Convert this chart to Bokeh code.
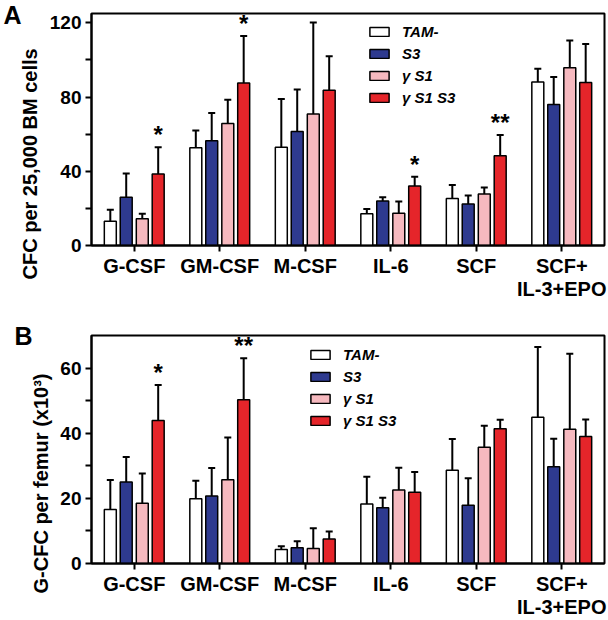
from bokeh.plotting import figure
from bokeh.models import (ColumnDataSource, FactorRange, Range1d, FixedTicker, LinearAxis,
                          Whisker, TeeHead, Legend, LegendItem, Title)
from bokeh.transform import dodge
from bokeh.layouts import column
from bokeh.embed import file_html
from bokeh.resources import INLINE
from bokeh.core.properties import value

categories = ["G-CSF", "GM-CSF", "M-CSF", "IL-6", "SCF", "SCF+\nIL-3+EPO"]
series = ["TAM-", "S3", "γ S1", "γ S1 S3"]
colors = ["#ffffff", "#2e3a8f", "#f6b9bf", "#e5252a"]

# Panel A: CFC per 25,000 BM cells (mean, SD)
a_tam = [13.0, 52.7, 52.9, 17.1, 25.3, 88.1]
a_tam_err = [6.2, 9.3, 26.0, 2.5, 7.3, 7.1]
a_s3 = [26.0, 56.4, 61.4, 24.0, 22.3, 76.0]
a_s3_err = [12.8, 15.0, 22.6, 2.0, 4.6, 14.8]
a_s1 = [14.4, 65.7, 70.9, 17.4, 27.8, 95.8]
a_s1_err = [2.7, 12.8, 49.3, 6.3, 3.5, 14.6]
a_s1s3 = [38.5, 87.6, 83.7, 32.0, 48.4, 87.8]
a_s1s3_err = [14.5, 25.3, 18.3, 5.0, 11.2, 20.8]
a_sig = ["*", "*", "", "*", "**", ""]
a_ticks = [0, 20, 40, 60, 80, 100, 120]
a_tick_labels = ["0", "", "40", "", "80", "", "120"]

# Panel B: G-CFC per femur (x10^3)
b_tam = [16.6, 19.9, 4.3, 18.3, 28.6, 44.9]
b_tam_err = [9.0, 5.5, 1.0, 8.3, 9.6, 21.6]
b_s3 = [25.0, 20.7, 4.8, 17.1, 17.9, 29.7]
b_s3_err = [7.7, 8.6, 2.0, 3.1, 8.3, 8.6]
b_s1 = [18.5, 25.7, 4.6, 22.6, 35.7, 41.2]
b_s1_err = [9.1, 13.0, 6.2, 6.8, 6.6, 23.2]
b_s1s3 = [43.9, 50.3, 7.5, 21.9, 41.4, 39.0]
b_s1s3_err = [10.9, 12.7, 2.3, 6.2, 2.7, 5.2]
b_sig = ["*", "**", "", "", "", ""]
b_ticks = [0, 10, 20, 30, 40, 50, 60]
b_tick_labels = ["0", "", "20", "", "40", "", "60"]

FONT = "Liberation Sans"
offsets = [-0.28, -0.094, 0.094, 0.28]


def make_panel(means, errs, sig, ymax, ticks, tick_labels, ylabel, ylabel_offset,
               letter, height, top_border, frame_h, legend_loc):
    bottom_border = height - top_border - frame_h
    p = figure(x_range=FactorRange(factors=categories), y_range=Range1d(0, ymax),
               width=608, height=height,
               min_border_left=88, min_border_right=4,
               min_border_top=top_border, min_border_bottom=bottom_border,
               output_backend="svg", toolbar_location=None)
    p.xgrid.grid_line_color = None
    p.ygrid.grid_line_color = None
    p.outline_line_color = "black"
    p.outline_line_width = 2
    p.outline_line_alpha = 1

    items = []
    for i, (m, e) in enumerate(zip(means, errs)):
        upper = [a + b for a, b in zip(m, e)]
        src = ColumnDataSource(dict(cat=categories, top=m, upper=upper,
                                    sig=sig if i == 3 else [""] * len(categories)))
        r = p.vbar(x=dodge("cat", offsets[i], range=p.x_range), top="top", width=0.14,
                   source=src, fill_color=colors[i], line_color="black", line_width=1.5)
        w = Whisker(base=dodge("cat", offsets[i], range=p.x_range), lower="top",
                    upper="upper", source=src, dimension="height", line_width=2,
                    line_color="black",
                    upper_head=TeeHead(size=7, line_width=2, line_color="black"),
                    lower_head=None)
        p.add_layout(w)
        if i == 3:
            p.text(x=dodge("cat", offsets[i], range=p.x_range), y="upper", text="sig",
                   source=src, text_align="center", text_baseline="bottom",
                   text_font=value(FONT), text_font_size="24px",
                   text_font_style="bold", text_color="black", y_offset=1)
        items.append(LegendItem(label=series[i], renderers=[r]))

    legend = Legend(items=items, location=legend_loc, glyph_width=24, glyph_height=11,
                    label_standoff=11, label_height=20, spacing=2, padding=0, margin=0,
                    border_line_color=None, background_fill_alpha=0,
                    label_text_font=FONT, label_text_font_size="15px",
                    label_text_font_style="bold italic", label_text_color="black")
    p.add_layout(legend)

    for ax in (p.xaxis[0], p.yaxis[0]):
        ax.axis_line_width = 2
        ax.axis_line_color = "black"
        ax.major_tick_line_width = 2
        ax.major_tick_line_color = "black"
        ax.major_tick_out = 6
        ax.major_tick_in = 0
        ax.minor_tick_out = 0
        ax.minor_tick_in = 0
        ax.major_label_text_font = FONT
        ax.major_label_text_font_style = "bold"
        ax.major_label_text_color = "black"
    p.xaxis.major_label_text_font_size = "20px"
    p.yaxis.major_label_text_font_size = "19px"
    p.xaxis.major_label_standoff = 3
    p.xaxis.major_label_text_line_height = 1.05
    p.yaxis.major_label_standoff = 4
    p.yaxis.ticker = FixedTicker(ticks=ticks, minor_ticks=[])
    p.yaxis.major_label_overrides = {t: l for t, l in zip(ticks, tick_labels)}

    p.add_layout(Title(text=ylabel, align="left", offset=ylabel_offset, standoff=11,
                       text_font=FONT, text_font_size="20px", text_font_style="bold",
                       text_color="black"), "left")

    # panel letter, drawn as the only label of a bare outer axis at the top of the frame
    top_tick = ymax - 0.01
    letter_axis = LinearAxis(ticker=FixedTicker(ticks=[top_tick], minor_ticks=[]),
                             major_label_overrides={top_tick: letter},
                             axis_line_color=None, major_tick_line_color=None,
                             minor_tick_line_color=None, major_tick_out=0,
                             major_tick_in=0, minor_tick_out=0, minor_tick_in=0,
                             major_label_text_font=FONT, major_label_text_font_size="25px",
                             major_label_text_font_style="bold",
                             major_label_text_color="black")
    try:
        letter_axis.major_label_standoff = -10
    except Exception:
        letter_axis.major_label_standoff = 0
    p.add_layout(letter_axis, "left")
    return p


pA = make_panel([a_tam, a_s3, a_s1, a_s1s3], [a_tam_err, a_s3_err, a_s1_err, a_s1s3_err],
                a_sig, 125, a_ticks, a_tick_labels, "CFC per 25,000 BM cells", -34,
                "A", 302, 13, 233, (276, 138))
pB = make_panel([b_tam, b_s3, b_s1, b_s1s3], [b_tam_err, b_s3_err, b_s1_err, b_s1s3_err],
                b_sig, 70, b_ticks, b_tick_labels, "G-CFC per femur (x10³)", -30,
                "B", 318, 33, 231, (217, 133))

layout = column(pA, pB, spacing=0)
open("out.html", "w").write(file_html(layout, INLINE))
